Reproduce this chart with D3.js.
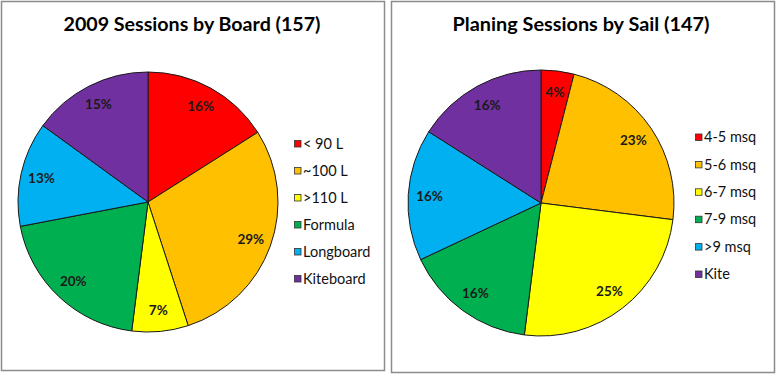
<!DOCTYPE html>
<html>
<head>
	<meta charset="utf-8">
	<script src="https://cdn.jsdelivr.net/npm/d3@7/dist/d3.min.js"></script>
	<style>
		body { margin: 0; background: #fff; }
		svg { display: block; }
		text { font-family: Lato, "Open Sans", sans-serif; }
	</style>
</head>
<body>
	<svg id="chart" width="777" height="376"></svg>

	<script>
		// values (percent of sessions)
		var boardCats = ['< 90 L', '~100 L', '>110 L', 'Formula', 'Longboard', 'Kiteboard'];
		var boardPct = [16, 29, 7, 20, 13, 15];

		var sailCats = ['4-5 msq', '5-6 msq', '6-7 msq', '7-9 msq', '>9 msq', 'Kite'];
		var sailPct = [4, 23, 25, 16, 16, 16];

		var colors = ['#FF0000', '#FFC000', '#FFFF00', '#00B050', '#00B0F0', '#7030A0'];

		var svg = d3.select('#chart');

		var drawPanel = (p) => {
			var g = svg.append('g');

			g.append('rect')
				.attr('x', p.x)
				.attr('y', p.y)
				.attr('width', p.w)
				.attr('height', p.h)
				.attr('fill', '#fff')
				.attr('stroke', '#8c8c8c')
				.attr('stroke-width', 1.5);

			g.append('text')
				.attr('x', p.titleX)
				.attr('y', 31)
				.attr('text-anchor', 'middle')
				.attr('font-size', 19)
				.attr('font-weight', 'bold')
				.attr('textLength', 257)
				.attr('lengthAdjust', 'spacingAndGlyphs')
				.attr('fill', '#000')
				.text(p.title);

			var color = d3.scaleOrdinal()
				.domain(p.cats)
				.range(colors);

			var pie = d3.pie().sort(null).value(d => d.v);
			var arcs = pie(p.cats.map((c, i) => ({ c: c, v: p.values[i] })));

			var arc = d3.arc().innerRadius(0).outerRadius(p.r);
			var labelArc = d3.arc().innerRadius(p.r * 0.84).outerRadius(p.r * 0.84);

			var pieG = g.append('g')
				.attr('transform', 'translate(' + p.cx + ',' + p.cy + ')');

			pieG.selectAll('path')
				.data(arcs)
				.enter()
				.append('path')
				.attr('d', arc)
				.attr('fill', d => color(d.data.c))
				.attr('stroke', '#1a1a1a')
				.attr('stroke-width', 1);

			pieG.selectAll('.lbl')
				.data(arcs)
				.enter()
				.append('text')
				.attr('class', 'lbl')
				.attr('transform', d => 'translate(' + labelArc.centroid(d) + ')')
				.attr('text-anchor', 'middle')
				.attr('dy', '0.35em')
				.attr('font-size', 13.5)
				.attr('font-weight', 'bold')
				.attr('fill', '#1a1a1a')
				.text(d => d.data.v + '%');

			var y = d3.scalePoint()
				.domain(p.cats)
				.range([p.legY0, p.legY1]);

			var leg = g.selectAll('.leg')
				.data(p.cats)
				.enter()
				.append('g')
				.attr('transform', d => 'translate(' + p.legX + ',' + y(d) + ')');

			leg.append('rect')
				.attr('x', 0)
				.attr('y', -3)
				.attr('width', 6.5)
				.attr('height', 6.5)
				.attr('fill', d => color(d))
				.attr('stroke', '#333')
				.attr('stroke-width', 0.8);

			leg.append('text')
				.attr('x', 8.5)
				.attr('dy', '0.36em')
				.attr('font-size', 14.5)
				.attr('fill', '#111')
				.text(d => d);
		};

		drawPanel({
			x: 1.5, y: 1.5, w: 383, h: 369,
			title: '2009 Sessions by Board (157)', titleX: 192,
			cats: boardCats, values: boardPct,
			cx: 148, cy: 202, r: 130,
			legX: 294.5, legY0: 143.5, legY1: 278.5
		});

		drawPanel({
			x: 391.5, y: 1.5, w: 383, h: 371,
			title: 'Planing Sessions by Sail (147)', titleX: 581,
			cats: sailCats, values: sailPct,
			cx: 541, cy: 203, r: 133,
			legX: 695.5, legY0: 137, legY1: 274
		});
	</script>
</body>
</html>
